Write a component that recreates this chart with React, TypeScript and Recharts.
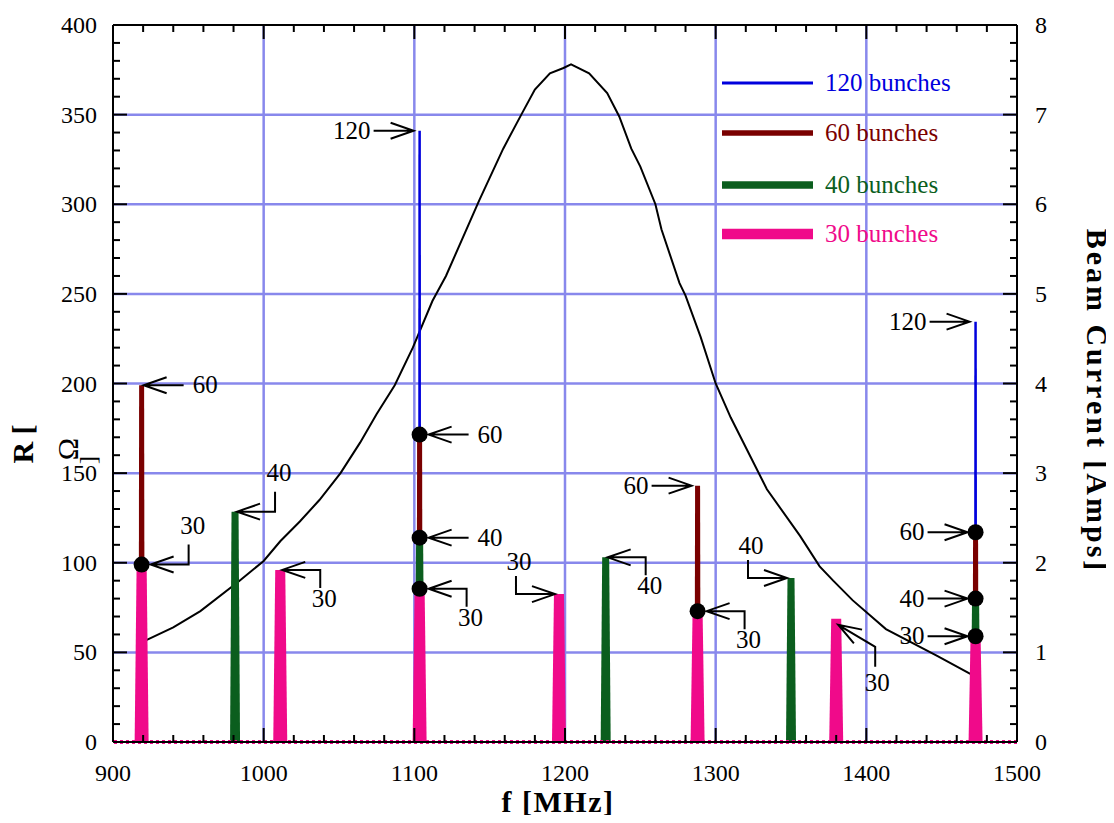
import React from "react";
import {
  ComposedChart,
  Line,
  XAxis,
  YAxis,
  ReferenceLine,
  ReferenceDot,
} from "recharts";

// black curve: shunt impedance R [Ohm] vs f [MHz]
const freqMHz = [
  920, 940, 958, 984, 1000, 1011, 1024, 1037, 1051, 1064, 1075, 1087, 1099,
  1112, 1121, 1143, 1159, 1171, 1180, 1190, 1199, 1204, 1216, 1228, 1236, 1244,
  1250, 1260, 1264, 1276, 1280, 1290, 1300, 1310, 1334, 1356, 1369, 1378, 1391,
  1413, 1447, 1469,
];
const impedanceOhm = [
  56, 64, 73, 90, 101, 112, 123, 135, 150, 167, 183, 199, 220, 246, 260, 302,
  331, 350, 364, 373, 376, 378, 373, 362, 349, 331, 321, 300, 286, 256, 249,
  226, 200, 181, 141, 115, 98, 90, 79, 63, 48, 38,
];
const impedance = freqMHz.map((f, i) => ({ f, R: impedanceOhm[i] }));

// beam current lines [Amps] for each fill pattern
const f120 = [1103.5, 1472.5];
const i120 = [6.82, 4.69];
const f60 = [919, 1103.5, 1288, 1472.5];
const i60 = [3.98, 3.43, 2.86, 2.34];
const f40 = [981, 1103.5, 1227, 1350, 1472.5];
const i40 = [2.57, 2.28, 2.06, 1.83, 1.6];
const f30 = [919, 1011, 1103.5, 1196, 1288, 1380, 1472.5];
const i30 = [1.98, 1.92, 1.71, 1.65, 1.46, 1.375, 1.18];

const seriesNames = ["120 bunches", "60 bunches", "40 bunches", "30 bunches"];

// black markers where the lines cross the curve
const markF = [919, 1103.5, 1103.5, 1103.5, 1288, 1472.5, 1472.5, 1472.5];
const markI = [1.98, 1.71, 2.28, 3.43, 1.46, 1.18, 1.6, 2.34];

const notes = [
  { f: 1103.5, I: 6.82, text: "120", kind: "right", dot: false },
  { f: 1472.5, I: 4.69, text: "120", kind: "right", dot: false },
  { f: 919, I: 3.98, text: "60", kind: "left", dot: false },
  { f: 919, I: 1.98, text: "30", kind: "elbowUp", dot: true },
  { f: 981, I: 2.57, text: "40", kind: "elbowUp", dot: false },
  { f: 1011, I: 1.92, text: "30", kind: "elbowDown", dot: false },
  { f: 1103.5, I: 3.43, text: "60", kind: "left", dot: true },
  { f: 1103.5, I: 2.28, text: "40", kind: "left", dot: true },
  { f: 1103.5, I: 1.71, text: "30", kind: "elbowDown", dot: true },
  { f: 1196, I: 1.65, text: "30", kind: "dropRight", dot: false },
  { f: 1227, I: 2.06, text: "40", kind: "elbowDown", dot: false },
  { f: 1288, I: 2.86, text: "60", kind: "right", dot: false },
  { f: 1288, I: 1.46, text: "30", kind: "elbowDown", dot: true },
  { f: 1350, I: 1.83, text: "40", kind: "dropRight", dot: false },
  { f: 1380, I: 1.375, text: "30", kind: "diag", dot: false },
  { f: 1472.5, I: 2.34, text: "60", kind: "right", dot: true },
  { f: 1472.5, I: 1.6, text: "40", kind: "right", dot: true },
  { f: 1472.5, I: 1.18, text: "30", kind: "right", dot: true },
];

const xLabels = [900, 1000, 1100, 1200, 1300, 1400, 1500];
const xGrid = [1000, 1100, 1200, 1300, 1400];
const ohmGrid = [50, 100, 150, 200, 250, 300, 350];

const xTicks = Array.from({ length: 31 }, (_, i) => 900 + i * 20);
const ohmTicks = Array.from({ length: 41 }, (_, i) => i * 10);
const ampTicks = Array.from({ length: 41 }, (_, i) => Math.round(i * 2) / 10);

const FONT = "'Liberation Serif', 'Times New Roman', serif";
const GRID = "#8888ec";
const colors = ["#0000dd", "#7a0000", "#0b5e1e", "#f00a8a"];
const topW = [2.5, 5, 7, 10];
const botW = [3, 6, 10, 14];

const isMajor = (v: number, step: number) =>
  Math.abs(v / step - Math.round(v / step)) < 1e-6;

const BottomTick = (p: any) => {
  const v = p.payload.value;
  const major = xLabels.includes(v);
  return (
    <g>
      <line x1={p.x} y1={p.y} x2={p.x} y2={p.y - (major ? 14 : 7)} stroke="#000" strokeWidth={2} />
      {major && (
        <text x={p.x} y={p.y + 39} textAnchor="middle" fontFamily={FONT} fontSize={24} fill="#000">
          {v}
        </text>
      )}
    </g>
  );
};

const TopTick = (p: any) => {
  const major = xLabels.includes(p.payload.value);
  return <line x1={p.x} y1={p.y} x2={p.x} y2={p.y + (major ? 14 : 7)} stroke="#000" strokeWidth={2} />;
};

const LeftTick = (p: any) => {
  const v = p.payload.value;
  const major = isMajor(v, 50);
  return (
    <g>
      <line x1={p.x} y1={p.y} x2={p.x + (major ? 14 : 7)} y2={p.y} stroke="#000" strokeWidth={2} />
      {major && (
        <text x={p.x - 16} y={p.y + 8} textAnchor="end" fontFamily={FONT} fontSize={24} fill="#000">
          {v}
        </text>
      )}
    </g>
  );
};

const RightTick = (p: any) => {
  const v = p.payload.value;
  const major = isMajor(v, 1);
  return (
    <g>
      <line x1={p.x} y1={p.y} x2={p.x - (major ? 14 : 7)} y2={p.y} stroke="#000" strokeWidth={2} />
      {major && (
        <text x={p.x + 18} y={p.y + 8} textAnchor="start" fontFamily={FONT} fontSize={24} fill="#000">
          {Math.round(v)}
        </text>
      )}
    </g>
  );
};

// tapered spike between bottom (x1,y1) and top (x2,y2)
const spikeShape = (k: number) => (p: any) => {
  const { x1, y1, x2, y2 } = p;
  const b = botW[k] / 2;
  const t = topW[k] / 2;
  return (
    <polygon
      points={`${x1 - b},${y1} ${x1 + b},${y1} ${x2 + t},${y2} ${x2 - t},${y2}`}
      fill={colors[k]}
    />
  );
};

const arrowHead = (tx: number, ty: number, fx: number, fy: number) => {
  const dx = tx - fx;
  const dy = ty - fy;
  const L = Math.hypot(dx, dy) || 1;
  const ux = dx / L;
  const uy = dy / L;
  const bx = tx - ux * 23;
  const by = ty - uy * 23;
  const nx = -uy * 8;
  const ny = ux * 8;
  return `M${bx + nx},${by + ny} L${tx},${ty} L${bx - nx},${by - ny}`;
};

const NoteMark = ({ cx, cy, note }: any) => {
  const g = note.dot ? 9 : 2;
  let path = "";
  let tx = 0;
  let ty = 0;
  let anchor = "middle";
  if (note.kind === "left") {
    const x = cx + g;
    path = `M${x + 40},${cy} L${x},${cy} ` + arrowHead(x, cy, x + 40, cy);
    tx = x + 49; ty = cy + 8; anchor = "start";
  } else if (note.kind === "right") {
    const x = cx - (note.dot ? 8 : 6);
    path = `M${x - 40},${cy} L${x},${cy} ` + arrowHead(x, cy, x - 40, cy);
    tx = x - 43; ty = cy + 8; anchor = "end";
  } else if (note.kind === "elbowUp") {
    const x = cx + g;
    path = `M${x + 38},${cy - 20} L${x + 38},${cy} L${x},${cy} ` + arrowHead(x, cy, x + 38, cy);
    tx = x + 42; ty = cy - 31;
  } else if (note.kind === "elbowDown") {
    const x = cx + g;
    path = `M${x + 38},${cy + 18} L${x + 38},${cy} L${x},${cy} ` + arrowHead(x, cy, x + 38, cy);
    tx = x + 42; ty = cy + 37;
  } else if (note.kind === "dropRight") {
    const x = cx - 4;
    const vx = cx - 43;
    path = `M${vx},${cy - 18} L${vx},${cy} L${x},${cy} ` + arrowHead(x, cy, vx, cy);
    tx = vx + 3; ty = cy - 24;
  } else if (note.kind === "diag") {
    const x = cx + 2;
    const y = cy + 6;
    path = `M${cx + 39},${cy + 48} L${cx + 39},${cy + 28} L${x},${y} ` + arrowHead(x, y, cx + 39, cy + 28);
    tx = cx + 41; ty = cy + 72;
  }
  return (
    <g>
      <path d={path} fill="none" stroke="#000" strokeWidth={2} />
      <text x={tx} y={ty} textAnchor={anchor as any} fontFamily={FONT} fontSize={25} fill="#000">
        {note.text}
      </text>
    </g>
  );
};

const spikeSets = [
  { f: f120, i: i120 },
  { f: f60, i: i60 },
  { f: f40, i: i40 },
  { f: f30, i: i30 },
];

export default function App() {
  return (
    <div style={{ position: "relative", width: 1098, height: 807 }}>
      <ComposedChart
        width={1098}
        height={807}
        data={impedance}
        margin={{ top: 16, right: 0, bottom: 0, left: 0 }}
      >
        <XAxis
          dataKey="f"
          type="number"
          domain={[900, 1500]}
          ticks={xTicks}
          interval={0}
          tickSize={0}
          tickMargin={0}
          tickLine={false}
          tick={(p: any) => <BottomTick {...p} />}
          axisLine={{ stroke: "#000", strokeWidth: 2 }}
          height={73}
          allowDataOverflow
        />
        <XAxis
          xAxisId="top"
          orientation="top"
          dataKey="f"
          type="number"
          domain={[900, 1500]}
          ticks={xTicks}
          interval={0}
          tickSize={0}
          tickMargin={0}
          tickLine={false}
          tick={(p: any) => <TopTick {...p} />}
          axisLine={{ stroke: "#000", strokeWidth: 2 }}
          height={1}
          allowDataOverflow
        />
        <YAxis
          yAxisId="ohm"
          type="number"
          domain={[0, 400]}
          ticks={ohmTicks}
          interval={0}
          tickSize={0}
          tickMargin={0}
          tickLine={false}
          tick={(p: any) => <LeftTick {...p} />}
          axisLine={{ stroke: "#000", strokeWidth: 2 }}
          width={105}
          allowDataOverflow
        />
        <YAxis
          yAxisId="amps"
          orientation="right"
          type="number"
          domain={[0, 8]}
          ticks={ampTicks}
          interval={0}
          tickSize={0}
          tickMargin={0}
          tickLine={false}
          tick={(p: any) => <RightTick {...p} />}
          axisLine={{ stroke: "#000", strokeWidth: 2 }}
          width={89}
          allowDataOverflow
        />

        {xGrid.map((v) => (
          <ReferenceLine key={"gx" + v} x={v} yAxisId="ohm" stroke={GRID} strokeWidth={2.5} />
        ))}
        {ohmGrid.map((v) => (
          <ReferenceLine key={"gy" + v} y={v} yAxisId="ohm" stroke={GRID} strokeWidth={2.5} />
        ))}

        <Line
          yAxisId="ohm"
          dataKey="R"
          type="linear"
          stroke="#000"
          strokeWidth={2}
          dot={false}
          isAnimationActive={false}
        />

        {spikeSets.map((s, k) =>
          s.f.map((f, j) => (
            <ReferenceLine
              key={`s${k}-${j}`}
              yAxisId="amps"
              segment={[
                { x: f, y: 0 },
                { x: f, y: s.i[j] },
              ]}
              stroke={colors[k]}
              shape={spikeShape(k)}
            />
          ))
        )}

        <ReferenceLine
          y={0}
          yAxisId="amps"
          stroke={colors[3]}
          strokeWidth={4}
          strokeDasharray="3 3"
        />

        {markF.map((f, j) => (
          <ReferenceDot
            key={"m" + j}
            yAxisId="amps"
            x={f}
            y={markI[j]}
            r={8}
            fill="#000"
            stroke="none"
          />
        ))}

        {notes.map((n, j) => (
          <ReferenceDot
            key={"n" + j}
            yAxisId="amps"
            x={n.f}
            y={n.I}
            r={1}
            shape={(p: any) => <NoteMark cx={p.cx} cy={p.cy} note={n} />}
          />
        ))}
      </ComposedChart>

      <svg
        width={1098}
        height={807}
        style={{ position: "absolute", left: 0, top: 0, overflow: "visible", pointerEvents: "none" }}
      >
        {seriesNames.map((name, k) => {
          const y = [75, 125, 177, 226][k];
          return (
            <g key={name}>
              <line x1={714} y1={y} x2={805} y2={y} stroke={colors[k]} strokeWidth={topW[k] + 0.5} />
              <text x={817} y={y + 8} fontFamily={FONT} fontSize={25} fill={colors[k]}>
                {name}
              </text>
            </g>
          );
        })}
        <text x={550} y={804} textAnchor="middle" fontFamily={FONT} fontSize={30} fontWeight="bold" letterSpacing={1.5}>
          f [MHz]
        </text>
        <text
          transform="translate(1079,393) rotate(90)"
          textAnchor="middle"
          fontFamily={FONT}
          fontSize={30}
          fontWeight="bold"
          letterSpacing={3}
        >
          Beam Current [Amps]
        </text>
        <text transform="translate(25,436) rotate(-90)" textAnchor="middle" fontFamily={FONT} fontSize={30} fontWeight="bold">
          R [
        </text>
        <text transform="translate(70,441) rotate(-90)" textAnchor="middle" fontFamily={FONT} fontSize={30}>
          Ω
        </text>
        <text transform="translate(88,452) rotate(-90)" textAnchor="middle" fontFamily={FONT} fontSize={24}>
          ]
        </text>
      </svg>
    </div>
  );
}
